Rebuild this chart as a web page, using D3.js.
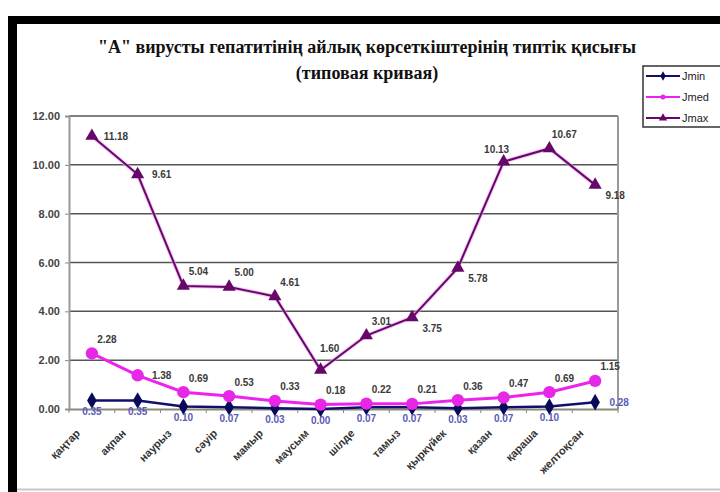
<!DOCTYPE html>
<html><head><meta charset="utf-8">
<script src="https://cdn.jsdelivr.net/npm/d3@7"></script>
<style>html,body{margin:0;padding:0;background:#fff;}svg{display:block;}</style>
</head><body>
<svg id="c" width="720" height="492"></svg>
<script>
const months = ['қаңтар','ақпан','наурыз','сәуір','мамыр','маусым','шілде','тамыз','қыркүйек','қазан','қараша','желтоқсан'];
const jmin = [0.35,0.35,0.10,0.07,0.03,0.00,0.07,0.07,0.03,0.07,0.10,0.28];
const jmed = [2.28,1.38,0.69,0.53,0.33,0.18,0.22,0.21,0.36,0.47,0.69,1.15];
const jmax = [11.18,9.61,5.04,5.00,4.61,1.60,3.01,3.75,5.78,10.13,10.67,9.18];
const yTicks = [0,2,4,6,8,10,12];
const seriesNames = ['Jmin','Jmed','Jmax'];
const titleLines = ['"А" вирусты гепатитінің айлық көрсеткіштерінің типтік қисығы','(типовая кривая)'];
// label placement codes
const jmaxPlace = ['r','r','ar','ar','ar','a','ar','br','br','al','ar','br'];
const jmedPlace = ['ar','r','ar','ar','ar','ar','ar','ar','ar','ar','ar','ar'];
const jminPlace = ['b','b','b','b','b','b','b','b','b','b','b','r'];

const offs = {r:[24,0], ar:[15,-14], a:[9,-21], al:[-7,-12], br:[20,11], b:[0,11]};

const svg = d3.select('#c');
// frame of the scanned picture
svg.append('rect').attr('x',8).attr('y',16).attr('width',712).attr('height',8).attr('fill','#000');
svg.append('rect').attr('x',8).attr('y',16).attr('width',9).attr('height',476).attr('fill','#000');
svg.append('line').attr('x1',17).attr('x2',720).attr('y1',489.5).attr('y2',489.5).attr('stroke','#c8c8c8').attr('stroke-width',2);

const x = d3.scaleBand().domain(months).range([69,618]);
const y = d3.scaleLinear().domain([0,12]).range([409,116]);
const cx = (d,i)=> x(months[i]) + x.bandwidth()/2;

// title
svg.append('g').selectAll('text').data(titleLines).join('text')
  .attr('x',367).attr('y',(d,i)=>53+i*26).attr('text-anchor','middle')
  .attr('font-family','"Liberation Serif", serif').attr('font-weight','bold').attr('font-size',18)
  .attr('fill','#111').text(d=>d);

// gridlines
svg.append('g').selectAll('line').data(yTicks.filter(t=>t>0)).join('line')
  .attr('x1',69).attr('x2',618).attr('y1',d=>y(d)).attr('y2',d=>y(d))
  .attr('stroke','#555').attr('stroke-width',1.5);
// right border
svg.append('line').attr('x1',618).attr('x2',618).attr('y1',y(12)).attr('y2',y(0)).attr('stroke','#999').attr('stroke-width',2);

// y axis
const ya = svg.append('g').attr('transform','translate(69,0)')
  .call(d3.axisLeft(y).tickValues(yTicks).tickFormat(d3.format('.2f')).tickSize(4).tickPadding(5));
ya.select('.domain').attr('stroke','#999').attr('stroke-width',2);
ya.selectAll('.tick line').attr('stroke','#888');
ya.selectAll('text').attr('font-family','Arial, "Liberation Sans", sans-serif').attr('font-weight','bold')
  .attr('font-size',11).attr('fill','#444');

// x axis
const xa = svg.append('g').attr('transform','translate(0,409)')
  .call(d3.axisBottom(x).tickSize(0).tickFormat(''));
xa.select('.domain').attr('stroke','#8a8a78').attr('stroke-width',2);
svg.append('g').selectAll('line').data(d3.range(13)).join('line')
  .attr('x1',d=>69+d*x.step()).attr('x2',d=>69+d*x.step()).attr('y1',409).attr('y2',413)
  .attr('stroke','#888');
svg.append('g').selectAll('text').data(months).join('text')
  .attr('transform',d=>`translate(${x(d)+x.bandwidth()/2-11},434) rotate(-45)`)
  .attr('text-anchor','end')
  .attr('font-family','Arial, "Liberation Sans", sans-serif').attr('font-weight','bold')
  .attr('font-size',11).attr('fill','#333').text(d=>d);

const line = d3.line().x(cx).y(d=>y(d));

// Jmax
svg.append('path').datum(jmax).attr('d',line).attr('fill','none').attr('stroke','#f0a0f0').attr('stroke-width',4).attr('opacity',0.6);
svg.append('path').datum(jmax).attr('d',line).attr('fill','none').attr('stroke','#66086a').attr('stroke-width',2);
// Jmed
svg.append('path').datum(jmed).attr('d',line).attr('fill','none').attr('stroke','#ee22ee').attr('stroke-width',3);
// Jmin
svg.append('path').datum(jmin).attr('d',line).attr('fill','none').attr('stroke','#10106a').attr('stroke-width',2.5);

const tri = d3.symbol().type(d3.symbolTriangle).size(75);
const dia = d3.symbol().type(d3.symbolDiamond).size(80);
const circ = d3.symbol().type(d3.symbolCircle).size(120);

svg.append('g').selectAll('path').data(jmin).join('path')
  .attr('d',dia).attr('transform',(d,i)=>`translate(${cx(d,i)},${y(d)})`).attr('fill','#0a0a5a');
svg.append('g').selectAll('path').data(jmed).join('path')
  .attr('d',circ).attr('transform',(d,i)=>`translate(${cx(d,i)},${y(d)})`).attr('fill','#e826e8');
svg.append('g').selectAll('path').data(jmax).join('path')
  .attr('d',tri).attr('transform',(d,i)=>`translate(${cx(d,i)},${y(d)})`).attr('fill','#66086a');

function labels(data, place, color){
  svg.append('g').selectAll('text').data(data).join('text')
    .attr('x',(d,i)=>cx(d,i)+offs[place[i]][0])
    .attr('y',(d,i)=>y(d)+offs[place[i]][1])
    .attr('dy','0.35em').attr('text-anchor','middle')
    .attr('font-family','Arial, "Liberation Sans", sans-serif').attr('font-weight','bold')
    .attr('font-size',10).attr('fill',color).text(d=>d3.format('.2f')(d));
}
labels(jmax, jmaxPlace, '#3a3a3a');
labels(jmed, jmedPlace, '#3a3a3a');
labels(jmin, jminPlace, '#5a5ab8');

// legend
const lg = svg.append('g');
lg.append('rect').attr('x',643).attr('y',66).attr('width',80).attr('height',61).attr('fill','#fff').attr('stroke','#333').attr('stroke-width',1.5);
const lgColors = ['#10106a','#ee22ee','#66086a'];
const lgSyms = [d3.symbol().type(d3.symbolDiamond).size(25), d3.symbol().type(d3.symbolCircle).size(20), d3.symbol().type(d3.symbolTriangle).size(30)];
const lgFill = ['#0a0a5a','#e826e8','#66086a'];
seriesNames.forEach((n,i)=>{
  const yy = 76 + i*21;
  lg.append('line').attr('x1',646).attr('x2',680).attr('y1',yy).attr('y2',yy).attr('stroke',lgColors[i]).attr('stroke-width',2);
  lg.append('path').attr('d',lgSyms[i]()).attr('transform',`translate(663,${yy})`).attr('fill',lgFill[i]);
  lg.append('text').attr('x',682).attr('y',yy).attr('dy','0.35em').attr('font-family','Arial, "Liberation Sans", sans-serif')
    .attr('font-size',11).attr('fill','#222').text(n);
});
</script>
</body></html>
